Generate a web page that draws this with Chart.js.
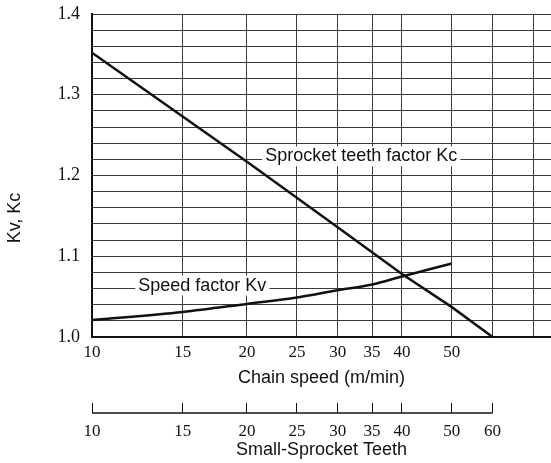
<!DOCTYPE html>
<html>
<head>
<meta charset="utf-8">
<script src="https://cdn.jsdelivr.net/npm/chart.js@4.4.0/dist/chart.umd.min.js"></script>
<style>
  body { margin: 0; background: #fff; }
  #wrap { width: 551px; height: 463px; }
</style>
</head>
<body>
<div id="wrap"><canvas id="factorChart"></canvas></div>
<script>
// speed factor Kv against chain speed (m/min)
const speeds = [10, 15, 20, 25, 30, 35, 40, 50];
const kvValues = [1.021, 1.031, 1.041, 1.049, 1.058, 1.065, 1.075, 1.091];

// sprocket teeth factor Kc against small-sprocket teeth
const teeth = [10, 15, 20, 30, 40, 50, 60];
const kcValues = [1.352, 1.273, 1.217, 1.136, 1.078, 1.037, 1.0];

// ticks / labels
const speedTicks = [10, 15, 20, 25, 30, 35, 40, 50, 60, 72];
const speedLabels = ['10', '15', '20', '25', '30', '35', '40', '50', '', ''];
const teethTicks = [10, 15, 20, 25, 30, 35, 40, 50, 60];
const teethLabels = ['10', '15', '20', '25', '30', '35', '40', '50', '60'];
const yLabels = ['1.0', '1.1', '1.2', '1.3', '1.4'];

// curve notes (text, chain speed where text starts, y value)
const noteText = ['Sprocket teeth factor Kc', 'Speed factor Kv'];
const noteX = [21.7, 12.3];
const noteY = [1.22, 1.06];

const xMin = 10;
const xMax = 77.9;

const serif = 'Liberation Serif';
const sans = 'Liberation Sans';

// draw y title, curve notes and the teeth axis line
const extrasPlugin = {
  id: 'extras',
  afterDatasetsDraw(chart) {
    const ctx = chart.ctx;
    const x = chart.scales.x;
    const y = chart.scales.y;
    ctx.save();
    ctx.font = '18px "' + sans + '"';
    ctx.textBaseline = 'middle';
    ctx.textAlign = 'left';
    for (let i = 0; i < noteText.length; i++) {
      const px = x.getPixelForValue(noteX[i]);
      const py = y.getPixelForValue(noteY[i]) - 3;
      const w = ctx.measureText(noteText[i]).width;
      ctx.fillStyle = '#fff';
      ctx.fillRect(px - 3, py - 10, w + 6, 20);
      ctx.fillStyle = '#111';
      ctx.fillText(noteText[i], px, py);
    }
    ctx.restore();
  },
  afterDraw(chart) {
    const ctx = chart.ctx;
    const x2 = chart.scales.x2;
    ctx.save();
    // teeth axis baseline, only from 10 to 60
    const by = x2.top + 10;
    ctx.strokeStyle = '#111';
    ctx.lineWidth = 1.5;
    ctx.beginPath();
    ctx.moveTo(x2.getPixelForValue(teethTicks[0]), by);
    ctx.lineTo(x2.getPixelForValue(teethTicks[teethTicks.length - 1]), by);
    ctx.stroke();
    // y axis title
    ctx.translate(15, 218);
    ctx.rotate(-Math.PI / 2);
    ctx.font = '18px "' + sans + '"';
    ctx.fillStyle = '#111';
    ctx.textAlign = 'center';
    ctx.textBaseline = 'middle';
    ctx.fillText('Kv, Kc', 0, 0);
    ctx.restore();
  }
};

const ctxFactor = document.getElementById('factorChart');

new Chart(ctxFactor, {
  type: 'line',
  data: {
    datasets: [
      {
        label: 'Speed factor Kv',
        data: speeds.map((s, i) => ({ x: s, y: kvValues[i] })),
        xAxisID: 'x',
        borderColor: '#111',
        borderWidth: 2.5,
        pointRadius: 0,
        cubicInterpolationMode: 'monotone',
      },
      {
        label: 'Sprocket teeth factor Kc',
        data: teeth.map((t, i) => ({ x: t, y: kcValues[i] })),
        xAxisID: 'x2',
        borderColor: '#111',
        borderWidth: 2.5,
        pointRadius: 0,
      },
    ],
  },
  options: {
    responsive: true,
    maintainAspectRatio: false,
    animation: false,
    layout: { padding: { top: 14, left: 0, right: 0, bottom: 0 } },
    plugins: {
      legend: { display: false },
      tooltip: { enabled: false },
    },
    scales: {
      x: {
        type: 'logarithmic',
        position: 'bottom',
        min: xMin,
        max: xMax,
        afterBuildTicks: (scale) => {
          scale.ticks = speedTicks.map((v) => ({ value: v }));
        },
        afterFit: (scale) => { scale.height = 66; },
        ticks: {
          autoSkip: false,
          maxRotation: 0,
          padding: 5,
          color: '#111',
          font: { family: serif, size: 17 },
          callback: (v, i) => speedLabels[i],
        },
        grid: { color: '#3a3a3a', lineWidth: 1, drawTicks: false },
        border: { color: '#111', width: 2 },
        title: {
          display: true,
          text: 'Chain speed (m/min)',
          color: '#111',
          font: { family: sans, size: 18 },
          padding: { top: 0, bottom: 14 },
        },
      },
      x2: {
        type: 'logarithmic',
        position: 'bottom',
        min: xMin,
        max: xMax,
        afterBuildTicks: (scale) => {
          scale.ticks = teethTicks.map((v) => ({ value: v }));
        },
        afterFit: (scale) => { scale.height = 60; },
        ticks: {
          autoSkip: false,
          maxRotation: 0,
          padding: 8,
          color: '#111',
          font: { family: serif, size: 17 },
          callback: (v, i) => teethLabels[i],
        },
        grid: { drawOnChartArea: false, tickLength: 10, color: '#111', lineWidth: 1 },
        border: { display: false },
        title: {
          display: true,
          text: 'Small-Sprocket Teeth',
          color: '#111',
          font: { family: sans, size: 18 },
          padding: { top: 0, bottom: 2 },
        },
      },
      y: {
        min: 1.0,
        max: 1.4,
        afterFit: (scale) => {
          scale.width = 92;
          scale.paddingTop = 0;
          scale.paddingBottom = 0;
        },
        ticks: {
          stepSize: 0.02,
          autoSkip: false,
          padding: 12,
          color: '#111',
          font: { family: serif, size: 18 },
          callback: (v, i) => (i % 5 === 0 ? yLabels[i / 5] : ''),
        },
        grid: { color: '#3a3a3a', lineWidth: 1, drawTicks: false },
        border: { color: '#111', width: 2 },
      },
    },
  },
  plugins: [extrasPlugin],
});
</script>
</body>
</html>
